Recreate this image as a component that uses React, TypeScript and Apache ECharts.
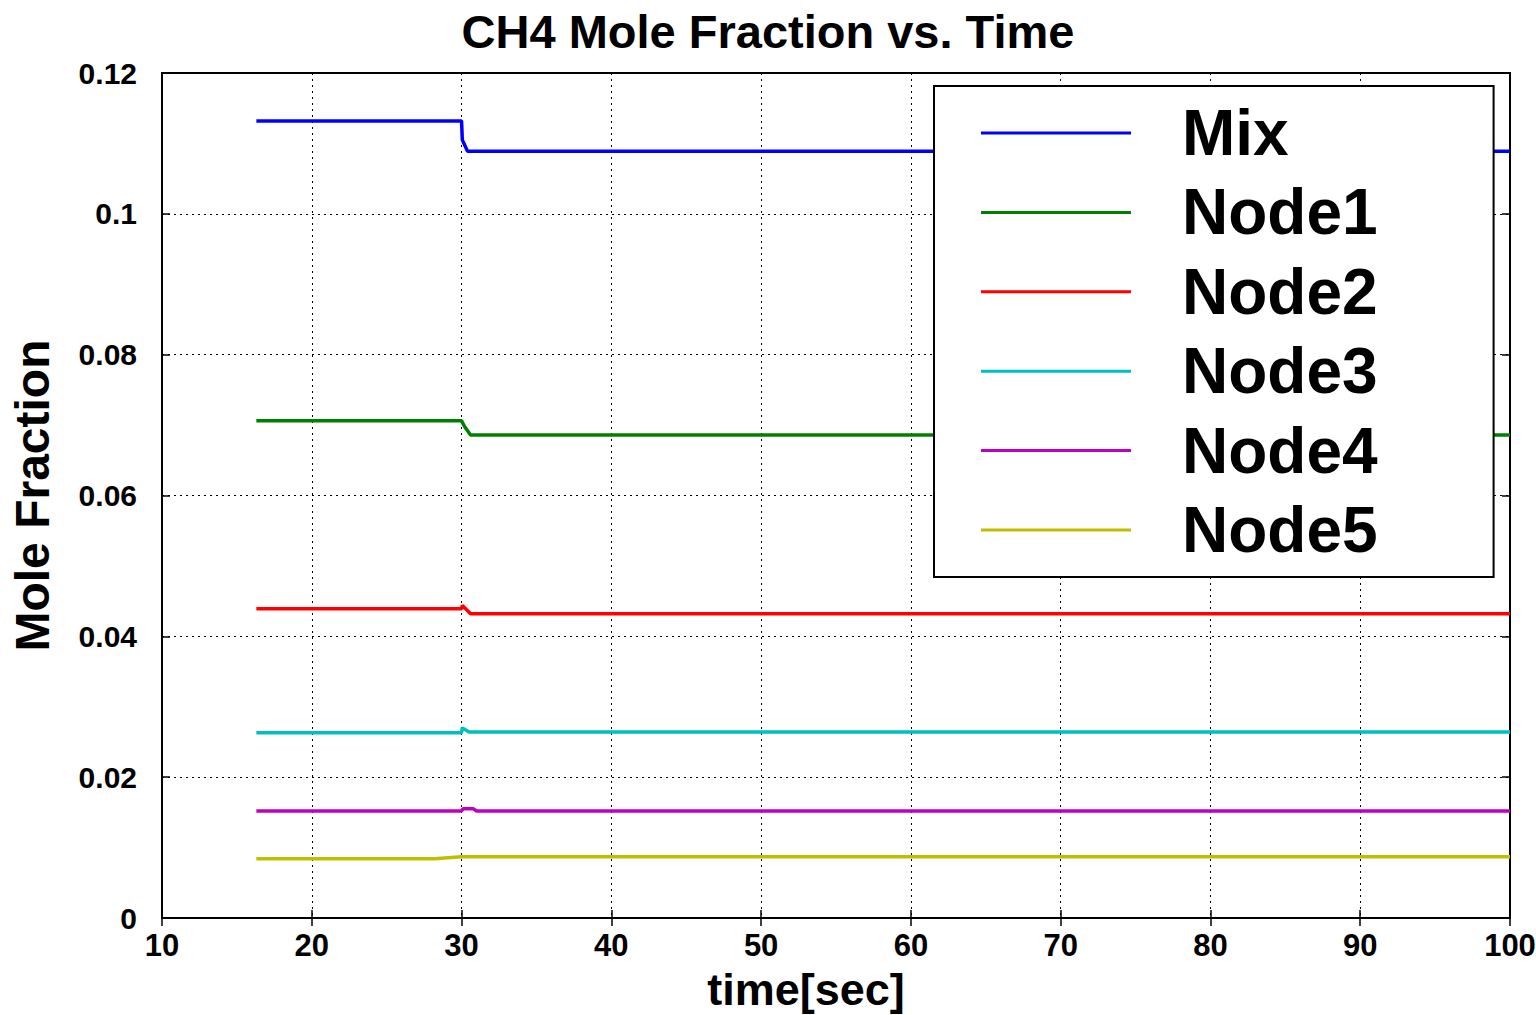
import React, { useEffect, useRef } from "react";
import * as echarts from "echarts";

const seriesNames = ["Mix", "Node1", "Node2", "Node3", "Node4", "Node5"];
const seriesColors = ["#0000ff", "#008000", "#ff0000", "#00bfbf", "#bf00bf", "#bfbf00"];

const mixData = [[16.3, 0.1132], [30.0, 0.1132], [30.05, 0.1105], [30.2, 0.1098], [30.4, 0.1089], [100, 0.1089]];
const node1Data = [[16.3, 0.0706], [30.0, 0.0706], [30.2, 0.0698], [30.6, 0.0686], [100, 0.0686]];
const node2Data = [[16.3, 0.0439], [30.0, 0.0439], [30.05, 0.0444], [30.6, 0.0432], [100, 0.0432]];
const node3Data = [[16.3, 0.0263], [30.0, 0.0263], [30.05, 0.0270], [30.5, 0.0264], [100, 0.0264]];
const node4Data = [[16.3, 0.0152], [30.0, 0.0152], [30.1, 0.0155], [30.8, 0.0155], [31.0, 0.0152], [100, 0.0152]];
const node5Data = [[16.3, 0.0084], [28.2, 0.0084], [30.0, 0.0087], [100, 0.0087]];
const allData = [mixData, node1Data, node2Data, node3Data, node4Data, node5Data];

const xMin = 10, xMax = 100, xStep = 10;
const yMin = 0, yMax = 0.12, yStep = 0.02;

const FONT = "'Liberation Sans', Arial, Helvetica, sans-serif";

export default function App() {
  const ref = useRef<HTMLDivElement>(null);
  useEffect(() => {
    document.body.style.margin = "0";
    const chart = echarts.init(ref.current!, null, { renderer: "svg" });
    const tickStyle = { show: true, inside: true, length: 8, lineStyle: { color: "#000", width: 1.5 } };
    chart.setOption({
      animation: false,
      backgroundColor: "#fff",
      title: {
        text: "CH4 Mole Fraction vs. Time",
        left: "center",
        top: 3,
        textStyle: { fontFamily: FONT, fontWeight: "bold", fontSize: 47, color: "#000" },
      },
      grid: {
        left: 162, right: 26, top: 73, bottom: 97,
        outerBoundsMode: "none",
        containLabel: false,
        show: true, borderColor: "#000", borderWidth: 2, backgroundColor: "transparent",
      },
      legend: {
        orient: "vertical",
        left: 934,
        top: 86,
        padding: [15, 116, 15, 47],
        backgroundColor: "#fff",
        borderColor: "#000",
        borderWidth: 2,
        icon: "rect",
        itemWidth: 150,
        itemHeight: 3,
        itemGap: 15.4,
        data: seriesNames,
        textStyle: {
          fontFamily: FONT, fontWeight: "bold", fontSize: 64, lineHeight: 64, color: "#000",
          padding: [0, 0, 0, 46],
        },
      },
      xAxis: [
        {
          type: "value", min: xMin, max: xMax, interval: xStep,
          name: "time[sec]", nameLocation: "middle", nameGap: 49,
          nameTextStyle: { fontFamily: FONT, fontWeight: "bold", fontSize: 45, lineHeight: 45, color: "#000", padding: [0, 60, 0, 0] },
          axisLine: { show: false },
          axisTick: tickStyle,
          axisLabel: { fontFamily: FONT, fontWeight: "bold", fontSize: 31, color: "#000", margin: 12 },
          splitLine: { show: true, lineStyle: { color: "#000", type: [2, 4], width: 1 } },
        },
        {
          type: "value", min: xMin, max: xMax, interval: xStep, position: "top",
          axisLine: { show: false }, axisTick: tickStyle, axisLabel: { show: false }, splitLine: { show: false },
        },
      ],
      yAxis: [
        {
          type: "value", min: yMin, max: yMax, interval: yStep,
          name: "Mole Fraction", nameLocation: "middle", nameGap: 106,
          nameTextStyle: { fontFamily: FONT, fontWeight: "bold", fontSize: 48, color: "#000" },
          axisLine: { show: false },
          axisTick: tickStyle,
          axisLabel: { fontFamily: FONT, fontWeight: "bold", fontSize: 30, color: "#000", margin: 25 },
          splitLine: { show: true, lineStyle: { color: "#000", type: [2, 4], width: 1 } },
        },
        {
          type: "value", min: yMin, max: yMax, interval: yStep, position: "right",
          axisLine: { show: false }, axisTick: tickStyle, axisLabel: { show: false }, splitLine: { show: false },
        },
      ],
      series: seriesNames.map((name, i) => ({
        name,
        type: "line",
        data: allData[i],
        symbol: "none",
        showSymbol: false,
        color: seriesColors[i],
        itemStyle: { color: seriesColors[i] },
        lineStyle: { color: seriesColors[i], width: 3.5 },
        z: 2,
      })),
    });
    return () => chart.dispose();
  }, []);
  return <div ref={ref} style={{ position: "fixed", left: 0, top: 0, width: 1536, height: 1015 }} />;
}
